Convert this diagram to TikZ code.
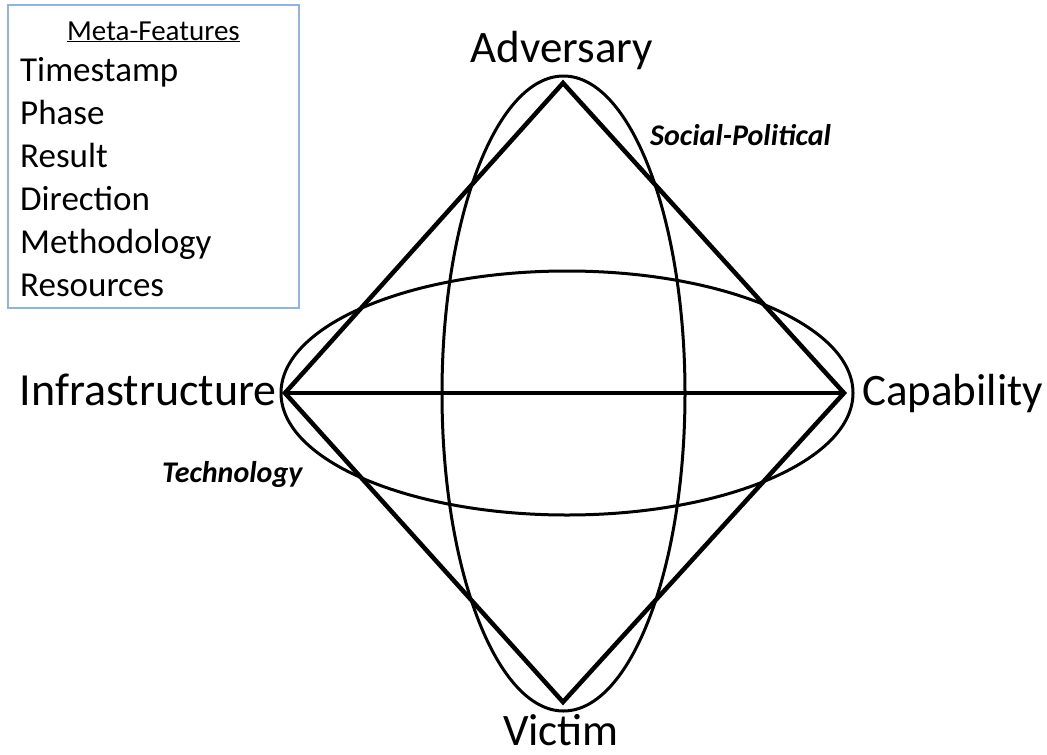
\documentclass[tikz,border=0pt]{standalone}
\usepackage{fontspec}
\setmainfont{Carlito}
\definecolor{boxblue}{HTML}{8EB4E3}
\begin{document}
\begin{tikzpicture}[x=1pt,y=-1pt,
  vertexlabel/.style={inner sep=0pt, font=\fontsize{45}{54}\selectfont},
  aspectlabel/.style={inner sep=0pt, font=\fontsize{30}{36}\selectfont\bfseries\itshape},
  metaitem/.style={inner sep=0pt, anchor=base west, font=\fontsize{35}{42}\selectfont},
  edgeline/.style={line width=4.5pt, line join=miter},
  ellline/.style={line width=3pt},
  metabox/.style={draw=boxblue, line width=1.3pt}]
\useasboundingbox (0,0) rectangle (1047,755);
% meta-features box
\draw[metabox] (8,5) rectangle (299,308);
\node[inner sep=0pt, anchor=base, font=\fontsize{29}{35}\selectfont] (mf) at (153.5,40) {\underline{Meta-Features}};
\node[metaitem] (m1) at (20,81) {Timestamp};
\node[metaitem] (m2) at (20,124) {Phase};
\node[metaitem] (m3) at (20,167) {Result};
\node[metaitem] (m4) at (20,210) {Direction};
\node[metaitem] (m5) at (20,253) {Methodology};
\node[metaitem] (m6) at (20,296) {Resources};
% ellipses
\draw[ellline] (563.5,393.5) ellipse [x radius=121.5, y radius=317.5];
\draw[ellline] (567,393) ellipse [x radius=286, y radius=122];
% diamond vertices
\coordinate (A) at (563,83);
\coordinate (C) at (844,393);
\coordinate (V) at (563,702);
\coordinate (I) at (285,393);
\draw[edgeline] (A) -- (C) -- (V) -- (I) -- cycle;
\draw[edgeline] (I) -- (C);
% labels
\node[vertexlabel, anchor=base] (adv) at (562,62) {Adversary};
\node[vertexlabel, anchor=base west] (cap) at (862,405) {Capability};
\node[vertexlabel, anchor=base east, font=\fontsize{46}{55}\selectfont] (inf) at (277,405) {Infrastructure};
\node[vertexlabel, anchor=base] (vic) at (561,745) {Victim};
\node[aspectlabel, anchor=base west] (sp) at (650,145) {Social-Political};
\node[aspectlabel, anchor=base west] (tech) at (162,482) {Technology};
\end{tikzpicture}
\end{document}
